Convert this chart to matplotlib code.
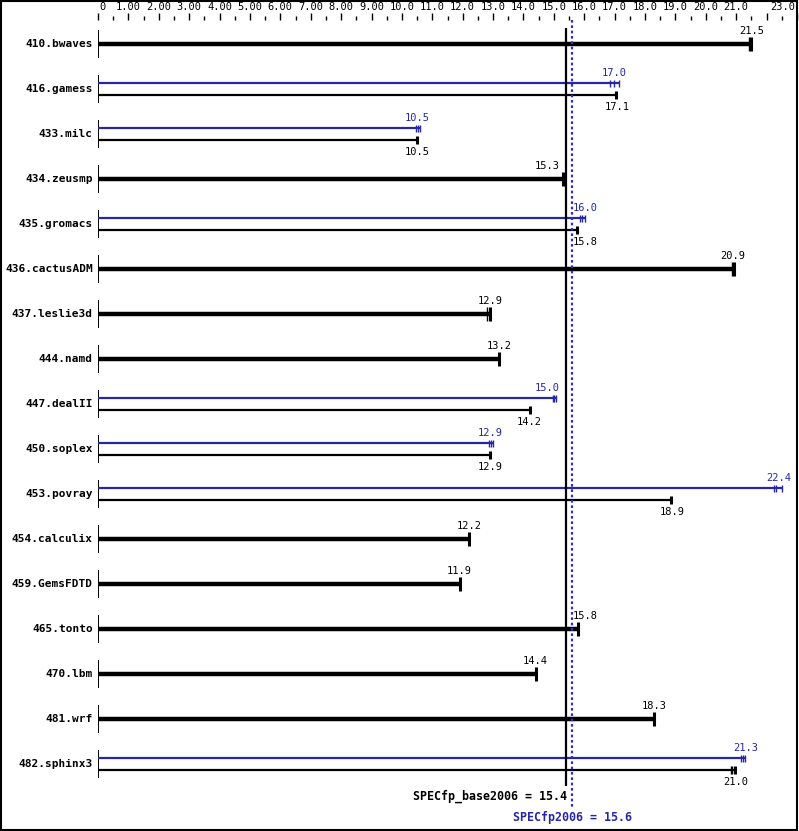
import matplotlib
matplotlib.use("Agg")
import matplotlib.pyplot as plt
import numpy as np
from matplotlib.patches import Rectangle

benchmarks = ["410.bwaves", "416.gamess", "433.milc", "434.zeusmp", "435.gromacs",
              "436.cactusADM", "437.leslie3d", "444.namd", "447.dealII", "450.soplex",
              "453.povray", "454.calculix", "459.GemsFDTD", "465.tonto", "470.lbm",
              "481.wrf", "482.sphinx3"]
base = [21.5, 17.1, 10.5, 15.3, 15.8, 20.9, 12.9, 13.2, 14.2, 12.9, 18.9, 12.2,
        11.9, 15.8, 14.4, 18.3, 21.0]
peak = [None, 17.0, 10.5, None, 16.0, None, None, None, 15.0, 12.9, 22.4, None,
        None, None, None, None, 21.3]
base_runs = [[21.42, 21.49], [17.05], [10.5], [15.3], [15.75], [20.86, 20.92],
             [12.8, 12.9], [13.2], [14.2], [12.9], [18.85], [12.2], [11.9], [15.8],
             [14.4], [18.3], [20.83, 20.87, 20.96]]
peak_runs = [None, [16.85, 16.98, 17.13], [10.46, 10.52, 10.58], None,
             [15.85, 15.93, 16.02], None, None, None, [14.96, 15.02, 15.08],
             [12.86, 12.93, 13.0], [22.23, 22.3, 22.5], None, None, None, None,
             None, [21.16, 21.22, 21.29]]
tick_values = list(range(0, 24))
tick_labels = ["0", "1.00", "2.00", "3.00", "4.00", "5.00", "6.00", "7.00", "8.00",
               "9.00", "10.0", "11.0", "12.0", "13.0", "14.0", "15.0", "16.0", "17.0",
               "18.0", "19.0", "20.0", "21.0", "", "23.0"]
spec_base = 15.4
spec_peak = 15.6

BLUE = "#2626a6"
DOT_BLUE = "#3030c8"
MONO = "DejaVu Sans Mono"

W, H = 799, 831
fig = plt.figure(figsize=(W / 100, H / 100), dpi=100)
fig.patch.set_facecolor("white")
ax = fig.add_axes([98 / W, 0, 699 / W, 1])
ax.set_xlim(0, 23)
ax.set_ylim(H, 0)
ax.axis("off")

# figure border
fig.patches.append(Rectangle((0.5 / W, 1.5 / H), (W - 2.5) / W, (H - 2.5) / H,
                             transform=fig.transFigure, fill=False, lw=1.5,
                             ec="black", zorder=10))

# top scale
major_top, major_bot, minor_top = 12.5, 19.5, 15.5
ax.vlines(tick_values, major_top, major_bot, color="black", lw=1.0, clip_on=False)
halves = np.arange(0.5, 23, 1.0)
ax.vlines(halves, minor_top, major_bot, color="black", lw=1.0, clip_on=False)
for v, lab in zip(tick_values, tick_labels):
    if not lab:
        continue
    ha = "center"
    xv = v
    if v == 0:
        ha = "left"
        xv = v + 0.05
    elif v == tick_values[-1]:
        ha = "right"
        xv = v - 0.07
    ax.text(xv, 7, lab, ha=ha, va="center", fontsize=7.5, family=MONO,
            color="black", clip_on=False)


def value_label(v, y, color):
    # keep labels clear of the two mean lines
    half_w = 0.42
    lo, hi = spec_base - 0.05, spec_peak + 0.05
    if v - half_w < hi and v + half_w > lo:
        if v <= spec_base:
            ax.text(spec_base - 0.2, y, f"{v:.1f}", ha="right", va="center",
                    fontsize=7.5, family=MONO, color=color)
        else:
            ax.text(spec_peak + 0.02, y, f"{v:.1f}", ha="left", va="center",
                    fontsize=7.5, family=MONO, color=color)
    else:
        ax.text(v, y, f"{v:.1f}", ha="center", va="center",
                fontsize=7.5, family=MONO, color=color)


first_y, row_h, off = 44, 45, 6
for i, name in enumerate(benchmarks):
    yc = first_y + row_h * i
    ax.vlines(0, yc - 14, yc + 13.5, color="black", lw=1.4)
    ax.text(-0.17, yc, name, ha="right", va="center", fontsize=8.0,
            family=MONO, weight="bold", color="black")
    if peak[i] is None:
        runs = base_runs[i]
        end = max(runs)
        ax.hlines(yc, 0, end, color="black", lw=3.2)
        for j, r in enumerate(runs):
            ax.vlines(r, yc - 7, yc + 7, color="black",
                      lw=2.2 if j == len(runs) - 1 else 1.0)
        value_label(base[i], yc - 13, "black")
    else:
        yp, yb = yc - off, yc + off
        pr = peak_runs[i]
        ax.hlines(yp, 0, max(pr), color=BLUE, lw=1.6)
        ax.vlines(pr, yp - 3.5, yp + 3.5, color=BLUE, lw=1.0)
        value_label(peak[i], yp - 10, BLUE)
        br = base_runs[i]
        ax.hlines(yb, 0, max(br), color="black", lw=1.6)
        for j, r in enumerate(br):
            ax.vlines(r, yb - 4, yb + 4, color="black",
                      lw=2.2 if j == len(br) - 1 else 1.0)
        value_label(base[i], yb + 12, "black")

# mean lines
ax.vlines(spec_base, 28, 786, color="black", lw=1.6, zorder=5)
ax.vlines(spec_peak, 20, 808, color=DOT_BLUE, lw=1.6, linestyles=(0, (1.2, 1.2)),
          zorder=5)
ax.text(spec_base + 0.02, 796, f"SPECfp_base2006 = {spec_base:.1f}", ha="right",
        va="center", fontsize=8.4, family=MONO, weight="bold", color="black")
ax.text(spec_peak, 817, f"SPECfp2006 = {spec_peak:.1f}", ha="center",
        va="center", fontsize=8.4, family=MONO, weight="bold", color=BLUE)

fig.savefig("out.png", dpi=100, facecolor="white")
